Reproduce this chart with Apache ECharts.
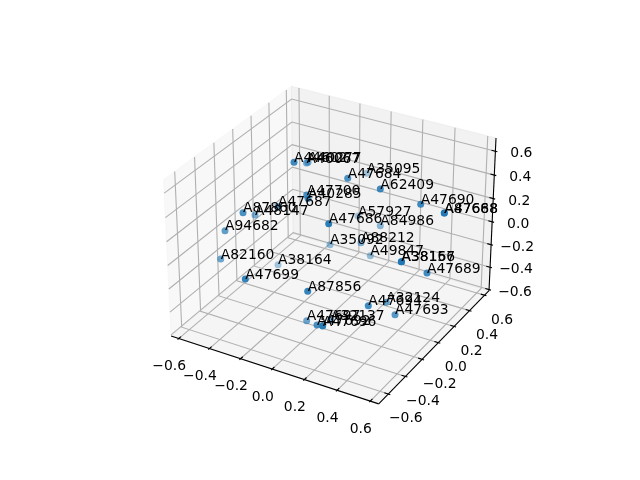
<!DOCTYPE html>
<html><head><meta charset="utf-8">
<style>html,body{margin:0;padding:0;background:#fff}#c{width:640px;height:480px}</style>
<script src="https://cdn.jsdelivr.net/npm/echarts@6/dist/echarts.min.js"></script>
</head><body><div id="c"></div>
<script>
// Labels, and the points' positions as read on the picture plane, with depth shading
const names = ["A44602","A46067","A40277","A47684","A35095","A62409","A47690","A87668","A47688","A47700","A40285","A47687","A87860","A48147","A94682","A82160","A38164","A47699","A87856","A47686","A35092","A57927","A84986","A88212","A49847","A38156","A38167","A47689","A47694","A32124","A47693","A47697","A47692","A47696","A32137"];
const planeX = [294,306.5,308,347.7,366.7,380.3,420.7,444.3,444.3,306.7,308,278,243,255,225,220.7,278,245.3,307.7,328.7,330,358,380.3,361,370.3,401.3,401.5,427,368.3,386.3,395,306.7,317,322.7,331];
const planeY = [162.3,163,162.3,178.3,173.3,189,204.3,213,213,195,198.5,206.7,212.7,215,230.7,259,264.7,279,291.3,223.7,244.7,216,225.7,242.7,255.7,261.7,261.7,273,305.7,302.3,314.7,320.7,325,326,320];
const shade = [.85,.6,.6,.8,.4,.85,.85,.9,.9,.8,.8,.8,.8,.6,.7,.65,.4,.9,.9,.95,.45,.4,.5,.55,.45,.95,.95,.85,.85,.7,.75,.65,.8,.95,.6];
const ticks = [-0.6,-0.4,-0.2,0,0.2,0.4,0.6];
const xLim = [-0.65,0.65], yLim = [-0.71,0.66], zLim = [-0.61,0.71];

const box = [4,4,3].map(v => v * 1.8294640721620434 * 25/24 / Math.sqrt(41));
const el = 30*Math.PI/180, az = -60*Math.PI/180, D = 10;
const dirv = [Math.cos(el)*Math.cos(az), Math.cos(el)*Math.sin(az), Math.sin(el)];
const R = box.map(b => b/2), eye = R.map((r,i) => r + D*dirv[i]);
const cross = (a,b) => [a[1]*b[2]-a[2]*b[1], a[2]*b[0]-a[0]*b[2], a[0]*b[1]-a[1]*b[0]];
const unit = a => { const n = Math.hypot(...a); return a.map(v=>v/n); };
const w = unit(dirv), u = unit(cross([0,0,1],w)), v = cross(w,u);
const dot = (a,b) => a[0]*b[0]+a[1]*b[1]+a[2]*b[2];
const nrm = (c,l) => (c-l[0])/(l[1]-l[0]);
function proj(x,y,z){
  const p = [nrm(x,xLim)*box[0], nrm(y,yLim)*box[1], nrm(z,zLim)*box[2]].map((c,i)=>c-eye[i]);
  const d = -dot(p,w), px = dot(p,u)/d, py = dot(p,v)/d;
  return [143.2 + (px+0.095)/0.185*369.6, 427.2 - (py+0.095)/0.185*369.6];
}
const [x0,x1] = xLim, [y0,y1] = yLim, [z0,z1] = zLim;
const panes = [
  {c:[[x0,y0,z0],[x0,y1,z0],[x0,y1,z1],[x0,y0,z1]], f:'rgba(242,242,242,0.5)'},
  {c:[[x0,y1,z0],[x1,y1,z0],[x1,y1,z1],[x0,y1,z1]], f:'rgba(230,230,230,0.5)'},
  {c:[[x0,y0,z0],[x1,y0,z0],[x1,y1,z0],[x0,y1,z0]], f:'rgba(236,236,236,0.5)'}
];
const grids = [];
ticks.forEach(t=>{
  grids.push([[t,y0,z0],[t,y1,z0],[t,y1,z1]]);
  grids.push([[x1,t,z0],[x0,t,z0],[x0,t,z1]]);
  grids.push([[x1,y1,t],[x0,y1,t],[x0,y0,t]]);
});
const axesLines = [[[x0,y0,z0],[x1,y0,z0]],[[x1,y0,z0],[x1,y1,z0]],[[x1,y1,z0],[x1,y1,z1]]];
const tickMarks = [], tickLabels = [];
const fmt = t => (t<0?'\u2212':'')+Math.abs(t).toFixed(1);
const od = 0.012, id = 0.024;
ticks.forEach(t=>{
  tickMarks.push([[t,y0-od,z0],[t,y0+id,z0]]);
  tickMarks.push([[x1+od,t,z0],[x1-id,t,z0]]);
  tickMarks.push([[x1+od,y1,t],[x1-id,y1,t]]);
  tickLabels.push({p:[t,y0,z0],dx:-9.5,dy:28,s:fmt(t)});
  tickLabels.push({p:[x1,t,z0],dx:17.5,dy:24.7,s:fmt(t)});
  tickLabels.push({p:[x1,y1,t],dx:26,dy:2.5,s:fmt(t)});
});
const pts = a => a.map(c => proj(...c));
function frame(params, api){
  const C = c => api.coord(c);
  const ch = [];
  panes.forEach(p=>ch.push({type:'polygon',shape:{points:pts(p.c).map(C)},style:{fill:p.f,stroke:p.f,lineWidth:1}}));
  grids.forEach(g=>ch.push({type:'polyline',shape:{points:pts(g).map(C)},style:{fill:null,stroke:'#b0b0b0',lineWidth:1.1}}));
  axesLines.forEach(g=>ch.push({type:'polyline',shape:{points:pts(g).map(C)},style:{fill:null,stroke:'#000',lineWidth:1.1}}));
  tickMarks.forEach(g=>ch.push({type:'polyline',shape:{points:pts(g).map(C)},style:{fill:null,stroke:'#000',lineWidth:1.1}}));
  tickLabels.forEach(l=>{const q=C(proj(...l.p));ch.push({type:'text',x:q[0]+l.dx,y:q[1]+l.dy,style:{text:l.s,fill:'#000',font:'13.9px "DejaVu Sans"',align:'center',verticalAlign:'middle'}});});
  return {type:'group',children:ch};
}
const scatterData = names.map((n,i)=>({name:n,value:[planeX[i],planeY[i]],itemStyle:{opacity:shade[i]},label:{opacity:1}}));
const chart = echarts.init(document.getElementById('c'),null,{renderer:'canvas'});
chart.setOption({
  animation:false,
  backgroundColor:'#fff',
  grid:{left:0,top:0,width:640,height:480},
  xAxis:{type:'value',min:0,max:640,show:false},
  yAxis:{type:'value',min:0,max:480,inverse:true,show:false},
  series:[
    {type:'custom',data:[[0,0]],renderItem:frame,silent:true,clip:false,z:1},
    {type:'scatter',data:scatterData,symbol:'circle',symbolSize:7,z:2,silent:true,clip:false,
     itemStyle:{color:'#1f77b4'},
     label:{show:true,opacity:1,formatter:p=>p.name,position:[3.5,6.5],align:'left',verticalAlign:'bottom',color:'#000',fontFamily:'DejaVu Sans',fontSize:13.9}}
  ]
});
</script></body></html>
